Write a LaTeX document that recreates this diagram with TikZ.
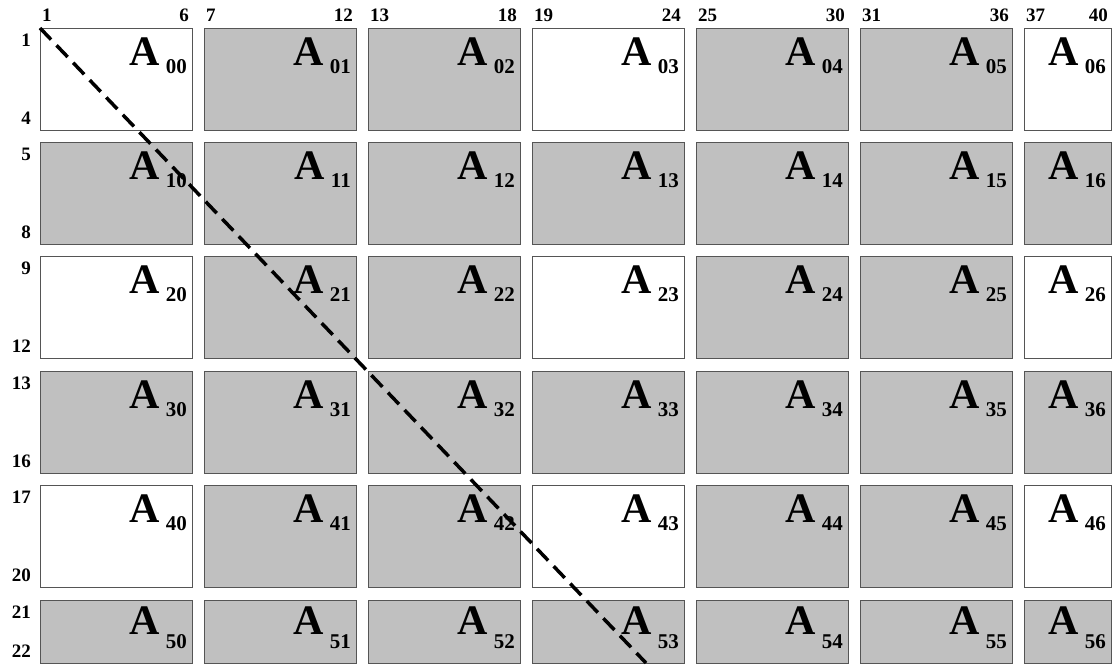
\documentclass[tikz,border=0pt]{standalone}
\usepackage{fontspec}
\setmainfont{Liberation Serif}
\usepackage{tikz}
\usetikzlibrary{positioning}

\definecolor{cellgray}{HTML}{C0C0C0}
\definecolor{celledge}{HTML}{555555}
\newcommand{\blocktag}[2]{A\hspace{6pt}\raisebox{-#2pt}{\fontsize{21}{21}\selectfont #1}}

\begin{document}
\begin{tikzpicture}[
  x=1pt, y=-1pt,
  cell/.style={draw=celledge, line width=1pt, inner sep=0pt, outer sep=0pt, anchor=north west},
  num/.style={font=\fontsize{19}{19}\selectfont\bfseries, inner sep=0pt},
  tag/.style={font=\fontsize{42}{42}\selectfont\bfseries, inner sep=0pt, anchor=base east},
  diag/.style={line width=3.5pt, dash pattern=on 16pt off 8pt},
]
\useasboundingbox (0,0) rectangle (1116,667);
% column numbers
\foreach \c/\cx/\cw/\lo/\hi in {0/40/152/1/6, 1/204/152/7/12, 2/368/152/13/18, 3/532/152/19/24,
                               4/696/152/25/30, 5/860/152/31/36, 6/1024/87/37/40}{
  \node[num, anchor=base west] (clo\c) at (\cx+2,21) {\lo};
  \node[num, anchor=base east] (chi\c) at (\cx+\cw-3,21) {\hi};
}
% rows of blocks
\foreach \r/\ry/\rh/\lo/\hi/\even/\ab/\sb in {0/28/102/1/4/1/37/8, 1/142.4/102/5/8/0/37/8,
    2/256.8/102/9/12/1/37/8, 3/371.2/102/13/16/0/37/8, 4/485.6/102/17/20/1/37/8, 5/600/63/21/22/0/34/14}{
  \node[num, anchor=base east] (rlo\r) at (31,\ry+18) {\lo};
  \node[num, anchor=base east] (rhi\r) at (31,\ry+\rh-6) {\hi};
  \foreach \c/\cx/\cw/\open in {0/40/152/1, 1/204/152/0, 2/368/152/0, 3/532/152/1,
                                4/696/152/0, 5/860/152/0, 6/1024/87/1}{
    \ifnum\numexpr\even*\open\relax=1 \def\cellfill{white}\else\def\cellfill{cellgray}\fi
    \node[cell, fill=\cellfill, minimum width=\cw pt, minimum height=\rh pt] (b\r\c) at (\cx,\ry) {};
    \node[tag] (t\r\c) at ([xshift=-5pt, yshift=-\ab pt]b\r\c.north east) {\blocktag{\r\c}{\sb}};
  }
}
% diagonal
\coordinate (diagend) at (646,663);
\draw[diag] (b00.north west) -- (diagend);
\end{tikzpicture}
\end{document}
